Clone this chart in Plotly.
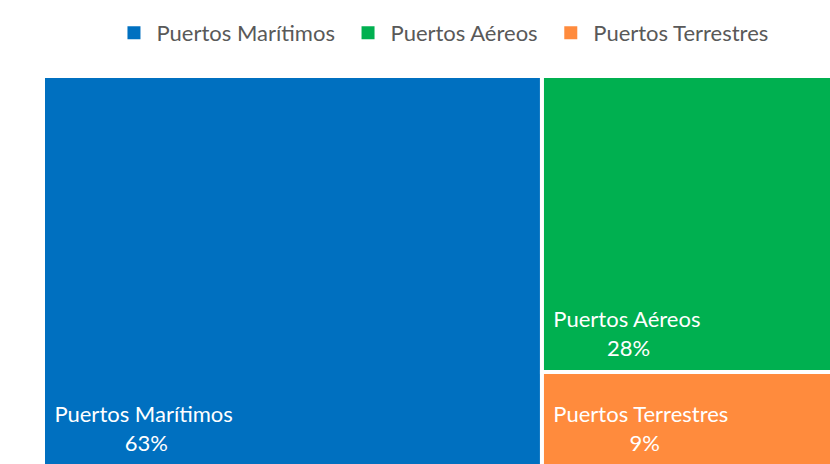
import plotly.graph_objects as go

labels = ["Puertos Marítimos", "Puertos Aéreos", "Puertos Terrestres"]
values = [63, 28, 9]
pct_text = ["63%", "28%", "9%"]
colors = ["#0070C0", "#00B050", "#FF8B3D"]

# non-breaking-space padding used to centre the percentage under the label
NB = "\u00a0"
lead = NB + "\u200a\u200a"
pct_pad = [14, 11, 15]
BOTTOM_SPACER = "<span style='font-size:62px'>" + NB + "</span>"

FONT = "Lato"

tile_text = [
    f"{lead}{lab}<br>{NB * p}{t}{BOTTOM_SPACER}"
    for lab, t, p in zip(labels, pct_text, pct_pad)
]

W, H = 835, 467

fig = go.Figure()
fig.add_trace(go.Treemap(
    labels=labels,
    parents=["", "", ""],
    values=values,
    text=tile_text,
    texttemplate="%{text}",
    textposition="bottom left",
    textfont=dict(family=FONT, size=22, color="white"),
    marker=dict(colors=colors, line=dict(color="white", width=4), pad=dict(t=0, l=0, r=0, b=0)),
    sort=False,
    tiling=dict(packing="squarify", pad=0),
    hoverinfo="label+value",
    pathbar=dict(visible=False),
    root=dict(color="white"),
))

for lab, col in zip(labels, colors):
    fig.add_trace(go.Scatter(
        x=[None], y=[None], mode="markers", name=lab + NB,
        marker=dict(symbol="square", size=13, color=col),
        showlegend=True,
    ))

fig.update_layout(
    width=W, height=H,
    margin=dict(l=43, r=0, t=76, b=0, autoexpand=False),
    paper_bgcolor="white",
    plot_bgcolor="white",
    font=dict(family=FONT, size=22, color="#595959"),
    legend=dict(orientation="h", x=0.5335, xanchor="center", xref="container",
                y=1 - 33 / H, yanchor="middle", yref="container",
                itemwidth=35,
                font=dict(family=FONT, size=22, color="#595959")),
    xaxis=dict(visible=False),
    yaxis=dict(visible=False),
)

fig.write_html(
    "out.html",
    config={"displayModeBar": False},
    post_script="document.body.style.margin='0';document.body.style.overflow='hidden';",
)
